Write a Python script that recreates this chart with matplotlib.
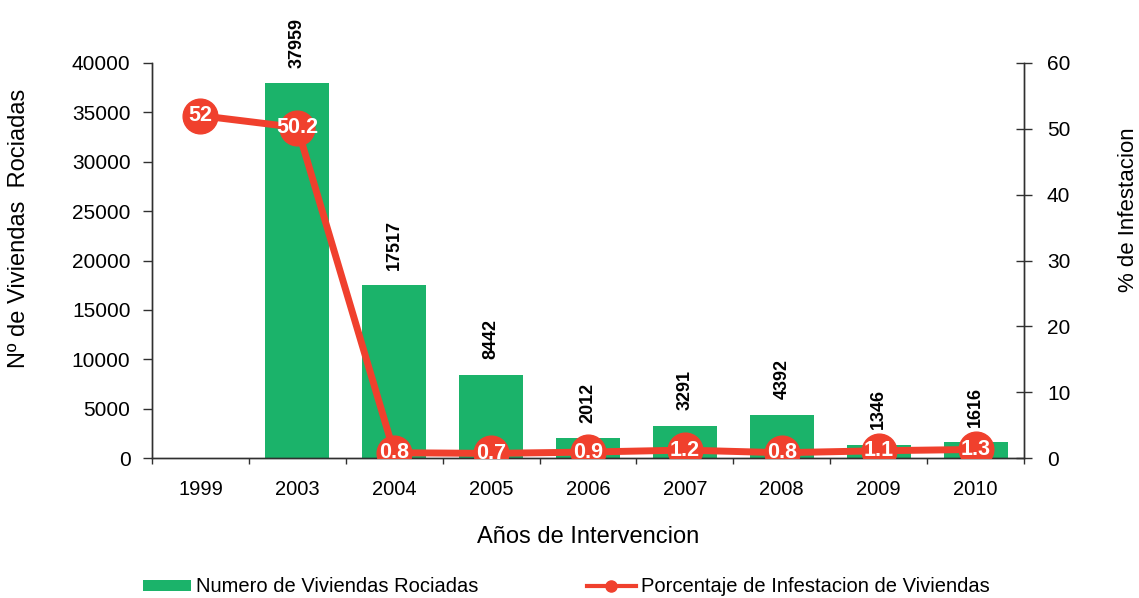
import matplotlib
matplotlib.use("Agg")
import matplotlib.pyplot as plt
import numpy as np
from matplotlib.lines import Line2D
from matplotlib.patches import Patch

plt.rcParams['font.family'] = ['Liberation Sans', 'DejaVu Sans']

years = ['1999', '2003', '2004', '2005', '2006', '2007', '2008', '2009', '2010']
viviendas = [None, 37959, 17517, 8442, 2012, 3291, 4392, 1346, 1616]
infestacion = [52, 50.2, 0.8, 0.7, 0.9, 1.2, 0.8, 1.1, 1.3]
infest_labels = ['52', '50.2', '0.8', '0.7', '0.9', '1.2', '0.8', '1.1', '1.3']

green = '#1bb36a'
red = '#f0402d'
axcol = '#303030'

W, H = 1139, 598
fig = plt.figure(figsize=(W / 100, H / 100), dpi=100)
L, R, T, B = 152, 1024, 63, 458
ax = fig.add_axes([L / W, 1 - B / H, (R - L) / W, (B - T) / H])
ax2 = ax.twinx()

x = np.arange(len(years))
bar_vals = [v if v is not None else 0 for v in viviendas]
ax.bar(x, bar_vals, width=0.66, color=green, zorder=2)
for xi, v in zip(x, viviendas):
    if v is None:
        continue
    ax.annotate(str(v), (xi, v), xytext=(0, 11), textcoords='offset points',
                rotation=90, ha='center', va='bottom', fontsize=13,
                fontweight='bold', color='black')

ax.set_xlim(-0.5, len(years) - 0.5)
ax.set_ylim(0, 40000)
ax.set_yticks(np.arange(0, 40001, 5000))
ax.set_xticks(x)
ax.set_xticklabels(years, fontsize=14.5)
ax.set_xticks(np.arange(-0.5, len(years), 1), minor=True)
ax.tick_params(axis='x', which='major', length=0, pad=16)
ax.tick_params(axis='x', which='minor', length=4.5, width=1, direction='out', color=axcol)
ax.tick_params(axis='y', labelsize=15, length=6.5, width=1, direction='out', color=axcol, pad=9)
ax.set_ylabel('Nº de Viviendas  Rociadas', fontsize=17, ha='center', va='center')
ax.yaxis.set_label_coords(-0.152, 0.582)
ax.set_xlabel('Años de Intervencion', fontsize=17, ha='center', va='center')
ax.xaxis.set_label_coords(0.5, -0.2)

ax2.set_ylim(0, 60)
ax2.set_yticks(np.arange(0, 61, 10))
ax2.tick_params(axis='y', labelsize=15, length=11, width=1, direction='inout', color=axcol, pad=11)
ax2.set_ylabel('% de Infestacion', fontsize=16, ha='center', va='center')
ax2.yaxis.set_label_coords(1.12, 0.628)
ax2.plot(x, infestacion, color=red, lw=5, marker='o', markersize=25,
         markerfacecolor=red, markeredgecolor=red, zorder=3)
for xi, v, lab in zip(x, infestacion, infest_labels):
    ax2.text(xi, v, lab, ha='center', va='center', fontsize=15.5,
             fontweight='bold', color='white', zorder=4)

for a in (ax, ax2):
    a.spines['top'].set_visible(False)
    for s in ('left', 'right', 'bottom'):
        a.spines[s].set_color(axcol)
        a.spines[s].set_linewidth(1.0)

h1 = Patch(facecolor=green, edgecolor='none')
h2 = Line2D([0], [0], color=red, lw=3, marker='o', markersize=8)
fig.legend([h1, h2], ['Numero de Viviendas Rociadas', 'Porcentaje de Infestacion de Viviendas'],
           loc='center', bbox_to_anchor=(0.497, 1 - 587 / H), ncol=2, frameon=False,
           fontsize=14.5, columnspacing=5.4, handlelength=2.4, handleheight=0.45,
           handletextpad=0.25, borderpad=0, borderaxespad=0)

fig.savefig('out.png', dpi=100)
